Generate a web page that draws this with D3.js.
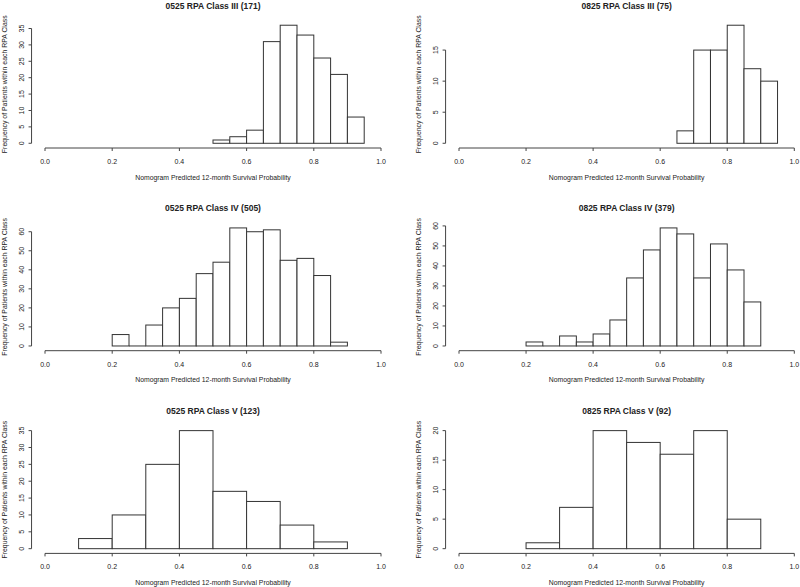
<!DOCTYPE html>
<html>
<head>
<meta charset="utf-8">
<script src="https://cdn.jsdelivr.net/npm/d3@7"></script>
<style>
  html, body { margin: 0; padding: 0; background: #fff; }
  svg text { font-family: "Liberation Sans", Arial, sans-serif; fill: #222; }
</style>
</head>
<body>
<svg id="chart" width="800" height="587"></svg>
<script>
// ---------- Data ----------
const titles = [
  "0525 RPA Class III (171)", "0825 RPA Class III (75)",
  "0525 RPA Class IV (505)",  "0825 RPA Class IV (379)",
  "0525 RPA Class V (123)",   "0825 RPA Class V (92)"
];

const breaks0525III = [0.50, 0.55, 0.60, 0.65, 0.70, 0.75, 0.80, 0.85, 0.90, 0.95];
const counts0525III = [1, 2, 4, 31, 36, 33, 26, 21, 8];

const breaks0825III = [0.65, 0.70, 0.75, 0.80, 0.85, 0.90, 0.95];
const counts0825III = [2, 15, 15, 19, 12, 10];

const breaks0525IV = [0.20, 0.25, 0.30, 0.35, 0.40, 0.45, 0.50, 0.55, 0.60, 0.65, 0.70, 0.75, 0.80, 0.85, 0.90];
const counts0525IV = [6, 0, 11, 20, 25, 38, 44, 62, 60, 61, 45, 46, 37, 2];

const breaks0825IV = [0.20, 0.25, 0.30, 0.35, 0.40, 0.45, 0.50, 0.55, 0.60, 0.65, 0.70, 0.75, 0.80, 0.85, 0.90];
const counts0825IV = [2, 0, 5, 2, 6, 13, 34, 48, 59, 56, 34, 51, 38, 22];

const breaks0525V = [0.1, 0.2, 0.3, 0.4, 0.5, 0.6, 0.7, 0.8, 0.9];
const counts0525V = [3, 10, 25, 35, 17, 14, 7, 2];

const breaks0825V = [0.2, 0.3, 0.4, 0.5, 0.6, 0.7, 0.8, 0.9];
const counts0825V = [1, 7, 20, 18, 16, 20, 5];

const xTicks = [0, 0.2, 0.4, 0.6, 0.8, 1.0];
const xTickLabels = ["0.0", "0.2", "0.4", "0.6", "0.8", "1.0"];

const yTicks0525III = [0, 5, 10, 15, 20, 25, 30, 35];
const yTicks0825III = [0, 5, 10, 15];
const yTicks0525IV = [0, 10, 20, 30, 40, 50, 60];
const yTicks0825IV = [0, 10, 20, 30, 40, 50, 60];
const yTicks0525V = [0, 5, 10, 15, 20, 25, 30, 35];
const yTicks0825V = [0, 5, 10, 15, 20];

const xLabel = "Nomogram Predicted 12-month Survival Probability";
const yLabel = "Frequency of Patients within each RPA Class";

const panels = [
  { title: titles[0], breaks: breaks0525III, counts: counts0525III, yTicks: yTicks0525III },
  { title: titles[1], breaks: breaks0825III, counts: counts0825III, yTicks: yTicks0825III },
  { title: titles[2], breaks: breaks0525IV,  counts: counts0525IV,  yTicks: yTicks0525IV },
  { title: titles[3], breaks: breaks0825IV,  counts: counts0825IV,  yTicks: yTicks0825IV },
  { title: titles[4], breaks: breaks0525V,   counts: counts0525V,   yTicks: yTicks0525V },
  { title: titles[5], breaks: breaks0825V,   counts: counts0825V,   yTicks: yTicks0825V }
];

// ---------- Layout ----------
const colX0 = [45, 459];        // pixel of x = 0
const colSpan = [336, 335.3];   // pixels per unit x
const rowBottom = [148, 350.7, 553.4];
const rowHeight = 127.5;

const svg = d3.select("#chart");
const stroke = "#333";
const axisColor = "#444";

panels.forEach((p, i) => {
  const col = i % 2, row = Math.floor(i / 2);
  const left = colX0[col] - 0.04 * colSpan[col];
  const right = colX0[col] + 1.04 * colSpan[col];
  const bottom = rowBottom[row];
  const top = bottom - rowHeight;
  const ymax = d3.max(p.counts);

  const x = d3.scaleLinear().domain([-0.04, 1.04]).range([left, right]);
  const y = d3.scaleLinear().domain([-0.04 * ymax, 1.04 * ymax]).range([bottom, top]);

  const g = svg.append("g");

  // bars
  const bins = p.counts.map((c, k) => ({ x0: p.breaks[k], x1: p.breaks[k + 1], c }));
  g.selectAll("rect.bar").data(bins.filter(d => d.c > 0)).enter().append("rect")
    .attr("class", "bar")
    .attr("x", d => x(d.x0))
    .attr("y", d => y(d.c))
    .attr("width", d => x(d.x1) - x(d.x0))
    .attr("height", d => y(0) - y(d.c))
    .attr("fill", "#fff")
    .attr("stroke", stroke)
    .attr("stroke-width", 1);
  // zero-count bins drawn as a flat line at 0 (like R's zero-height rect)
  g.selectAll("line.zero").data(bins.filter(d => d.c === 0)).enter().append("line")
    .attr("class", "zero")
    .attr("x1", d => x(d.x0)).attr("x2", d => x(d.x1))
    .attr("y1", y(0)).attr("y2", y(0))
    .attr("stroke", stroke).attr("stroke-width", 1);

  // x axis
  const xa = g.append("g").attr("transform", `translate(0,${bottom})`);
  xa.append("line").attr("x1", x(0)).attr("x2", x(1)).attr("y1", 0).attr("y2", 0)
    .attr("stroke", axisColor).attr("stroke-width", 1);
  xTicks.forEach((t, k) => {
    xa.append("line").attr("x1", x(t)).attr("x2", x(t)).attr("y1", 0).attr("y2", 3)
      .attr("stroke", axisColor).attr("stroke-width", 1);
    xa.append("text").attr("x", x(t)).attr("y", 16)
      .attr("text-anchor", "middle").attr("font-size", 7).text(xTickLabels[k]);
  });

  // y axis
  const ya = g.append("g").attr("transform", `translate(${left},0)`);
  const yt = p.yTicks;
  ya.append("line").attr("x1", 0).attr("x2", 0)
    .attr("y1", y(yt[0])).attr("y2", y(yt[yt.length - 1]))
    .attr("stroke", axisColor).attr("stroke-width", 1);
  yt.forEach(t => {
    ya.append("line").attr("x1", 0).attr("x2", -3).attr("y1", y(t)).attr("y2", y(t))
      .attr("stroke", axisColor).attr("stroke-width", 1);
    ya.append("text")
      .attr("transform", `translate(-7.5,${y(t)}) rotate(-90)`)
      .attr("text-anchor", "middle").attr("font-size", 7).text(t);
  });

  // title
  const cx = (left + right) / 2;
  g.append("text").attr("x", cx).attr("y", top - 12)
    .attr("text-anchor", "middle").attr("font-size", 8.5).attr("font-weight", "bold")
    .text(p.title);

  // x label
  g.append("text").attr("x", cx).attr("y", bottom + 31.5)
    .attr("text-anchor", "middle").attr("font-size", 6.85).text(xLabel);

  // y label
  g.append("text")
    .attr("transform", `translate(${left - 24.5},${(top + bottom) / 2}) rotate(-90)`)
    .attr("text-anchor", "middle").attr("font-size", 6.9).text(yLabel);
});
</script>
</body>
</html>
